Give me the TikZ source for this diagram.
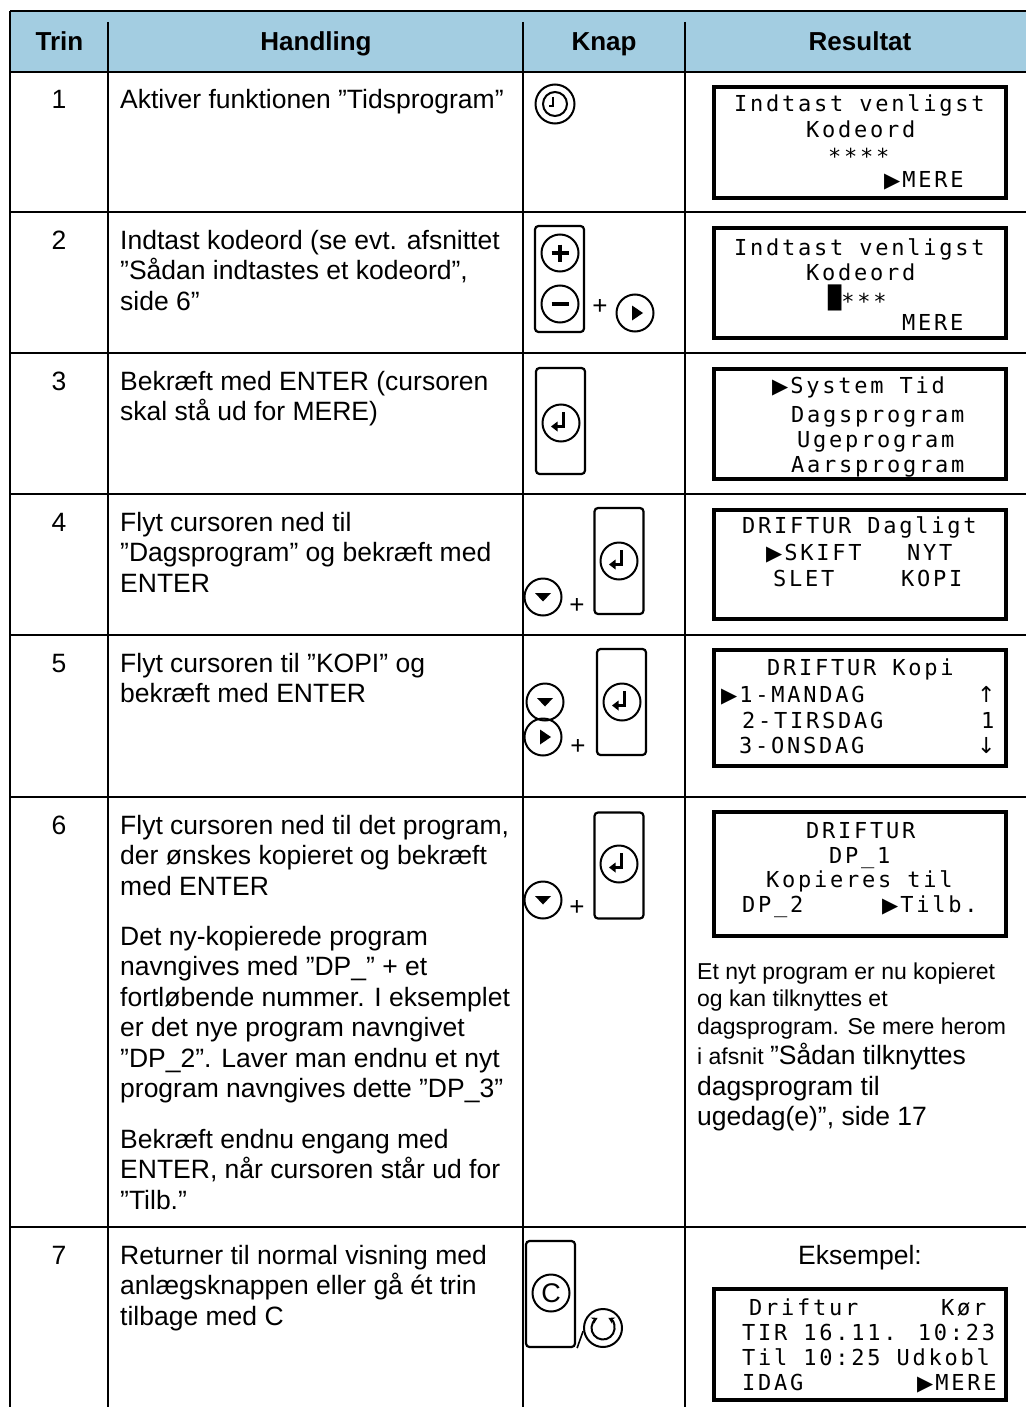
\documentclass[tikz,border=0pt]{standalone}
\usepackage{fontspec}
\setmainfont{Liberation Sans}
\newfontfamily\lcdfont[LetterSpace=12.5]{DejaVu Sans Mono}
\newfontfamily\symfont{DejaVu Sans}
\usetikzlibrary{arrows.meta}
\definecolor{hdr}{RGB}{163,205,225}
\newcommand\ptr{{\symfont\fontsize{21}{20}\selectfont ▶}\hspace{2pt}}
\newcommand\arrsym[1]{{\symfont\fontsize{22}{25}\selectfont #1}}
\newcommand\stars[1]{\raisebox{-4pt}{#1}}
\newcommand\enterglyph[1]{\begin{scope}[shift={(#1)}]
  \draw[line width=2.8pt] (2.5,-11) -- (2.5,3.5) -- (-4,3.5);
  \fill (-10,3.5) -- (-3.5,-1.5) -- (-3.5,8.5) -- cycle;
\end{scope}}
\newcommand\downglyph[1]{\fill[shift={(#1)}] (-8,-4) -- (8,-4) -- (0,4.5) -- cycle;}
\newcommand\rightglyph[1]{\fill[shift={(#1)}] (-3,-7.5) -- (-3,7.5) -- (8,0) -- cycle;}
\begin{document}
\begin{tikzpicture}[x=1pt,y=-1pt,
 grid/.style={line width=1.8pt,black},
 hd/.style={anchor=base,inner sep=0pt,font=\bfseries\fontsize{26}{30}\selectfont},
 txt/.style={anchor=base west,inner sep=0pt,font=\fontsize{26.5}{30}\selectfont},
 stxt/.style={anchor=base west,inner sep=0pt,font=\fontsize{23}{27}\selectfont},
 num/.style={anchor=base,inner sep=0pt,font=\fontsize{26.5}{30}\selectfont},
 lcdbox/.style={draw,line width=4.2pt},
 lcd/.style={anchor=base west,inner sep=0pt,font=\lcdfont\fontsize{22}{25}\selectfont},
 cbtn/.style={circle,draw,line width=2pt,minimum size=37pt,inner sep=0pt},
 rbtn/.style={draw,line width=2.2pt,rounded corners=3.5pt,minimum width=49pt,minimum height=106pt,inner sep=0pt},
 plussign/.style={inner sep=0pt,font=\fontsize{26}{30}\selectfont},
]
\useasboundingbox (0,0) rectangle (1026,1407);
% header
\fill[hdr] (10,11) rectangle (1026,72);
\node[hd] (h1) at (59.5,51) {Trin};
\node[hd] (h2) at (316,51) {Handling};
\node[hd] (h3) at (604,51) {Knap};
\node[hd] (h4) at (860,51) {Resultat};
% grid
\draw[grid] (10,11) -- (1026,11);
\draw[grid] (10,11) -- (10,1407);
\foreach \yy in {72,212,353,494,635,797,1227} \draw[grid] (10,\yy) -- (1026,\yy);
\foreach \xx in {108,523,685} \draw[grid] (\xx,22) -- (\xx,1407);
% step numbers
\foreach \n/\yy in {1/109,2/249,3/390,4/531,5/672,6/834,7/1264}
  \node[num] (n\n) at (59,\yy) {\n};
% Handling texts
\node[txt] (r1a) at (120,109) {Aktiver funktionen ”Tidsprogram”};
\foreach \t [count=\i] in {Indtast kodeord (se evt. afsnittet,{”Sådan indtastes et kodeord”,},side 6”}
  \node[txt] (r2l\i) at (120,249+30.5*\i-30.5) {\t};
\foreach \t [count=\i] in {Bekræft med ENTER (cursoren,skal stå ud for MERE)}
  \node[txt] (r3l\i) at (120,390+30.5*\i-30.5) {\t};
\foreach \t [count=\i] in {Flyt cursoren ned til,”Dagsprogram” og bekræft med,ENTER}
  \node[txt] (r4l\i) at (120,531+30.5*\i-30.5) {\t};
\foreach \t [count=\i] in {Flyt cursoren til ”KOPI” og,bekræft med ENTER}
  \node[txt] (r5l\i) at (120,672+30.5*\i-30.5) {\t};
\foreach \t [count=\i] in {{Flyt cursoren ned til det program,},der ønskes kopieret og bekræft,med ENTER}
  \node[txt] (r6l\i) at (120,834+30.5*\i-30.5) {\t};
\foreach \t [count=\i] in {Det ny-kopierede program,navngives med ”DP\_” + et,fortløbende nummer. I eksemplet,er det nye program navngivet,”DP\_2”. Laver man endnu et nyt,program navngives dette ”DP\_3”}
  \node[txt] (r6m\i) at (120,945+30.5*\i-30.5) {\t};
\foreach \t [count=\i] in {Bekræft endnu engang med,{ENTER, når cursoren står ud for},”Tilb.”}
  \node[txt] (r6n\i) at (120,1148+30.5*\i-30.5) {\t};
\foreach \t [count=\i] in {Returner til normal visning med,anlægsknappen eller gå ét trin,tilbage med C}
  \node[txt] (r7l\i) at (120,1264+30.5*\i-30.5) {\t};
% Result texts
\node[stxt] (s1) at (697,979) {Et nyt program er nu kopieret};
\node[stxt] (s2) at (697,1006) {og kan tilknyttes et};
\node[stxt] (s3) at (697,1034) {dagsprogram. Se mere herom};
\node[stxt] (s4) at (697,1064) {i afsnit {\fontsize{26.5}{30}\selectfont ”Sådan tilknyttes}};
\node[txt] (s5) at (697,1095) {dagsprogram til};
\node[txt] (s6) at (697,1125) {ugedag(e)”, side 17};
\node[num] (eks) at (860,1264) {Eksempel:};
% Buttons row 1: clock
\node[cbtn,minimum size=39pt] (clk) at (555,104) {};
\draw[line width=2pt] (clk.center) circle[radius=12];
\draw[line width=2pt,shift={(clk.center)}] (-2,-7) -- (-2,2) -- (-6,2);
% row 2
\node[rbtn] (b2) at (559.5,279) {};
\node[cbtn] (pl) at (560,253) {};
\draw[line width=3.3pt,shift={(pl.center)}] (-8.5,0) -- (8.5,0) (0,-8.5) -- (0,8.5);
\node[cbtn] (mi) at (560,304) {};
\draw[line width=3.3pt,shift={(mi.center)}] (-8.5,0) -- (8.5,0);
\node[plussign] (p2) at (600,307) {+};
\node[cbtn] (rt2) at (635,313) {};
\rightglyph{rt2.center}
% row 3
\node[rbtn] (b3) at (560.5,421) {};
\node[cbtn] (e3) at (561,423) {};
\enterglyph{e3.center}
% row 4
\node[cbtn] (d4) at (543,597) {};
\downglyph{d4.center}
\node[plussign] (p4) at (577,606) {+};
\node[rbtn] (b4) at (619,561) {};
\node[cbtn] (e4) at (619,561) {};
\enterglyph{e4.center}
% row 5
\node[cbtn] (d5) at (545,702) {};
\downglyph{d5.center}
\node[cbtn] (rt5) at (543,737) {};
\rightglyph{rt5.center}
\node[plussign] (p5) at (578,747) {+};
\node[rbtn] (b5) at (621.5,702) {};
\node[cbtn] (e5) at (622,702) {};
\enterglyph{e5.center}
% row 6
\node[cbtn] (d6) at (543,900) {};
\downglyph{d6.center}
\node[plussign] (p6) at (577,908) {+};
\node[rbtn] (b6) at (619,865.5) {};
\node[cbtn] (e6) at (619,864) {};
\enterglyph{e6.center}
% row 7
\node[rbtn] (b7) at (550.5,1294) {};
\node[cbtn,font=\fontsize{27}{30}\selectfont] (cc) at (551,1293) {C};
\node[cbtn,minimum size=38pt] (rf) at (603,1328) {};
\draw[line width=2pt,{Stealth[length=6pt,width=7pt]}-{Stealth[length=6pt,width=7pt]},shift={(rf.center)}]
  (-62:11.5) arc[start angle=-62,end angle=242,radius=11.5];
\draw[line width=1.6pt] (b7.south east) ++(1,0) -- ++(6,-17);
% LCD boxes
\draw[lcdbox] (714,87) rectangle (1006,198);
\draw[lcdbox] (714,228) rectangle (1006,338);
\draw[lcdbox] (714,369) rectangle (1006,479);
\draw[lcdbox] (714,510) rectangle (1006,619);
\draw[lcdbox] (714,650) rectangle (1006,766);
\draw[lcdbox] (714,812) rectangle (1006,936);
\draw[lcdbox] (714,1289) rectangle (1006,1400);
% LCD 1
\node[lcd] (l1a) at (734,112) {Indtast venligst};
\node[lcd] (l1b) at (806,138) {Kodeord};
\node[lcd] (l1c) at (828,161) {\stars{****}};
\node[lcd] (l1d) at (884,187) {\ptr MERE};
% LCD 2
\node[lcd] (l2a) at (734,255) {Indtast venligst};
\node[lcd] (l2b) at (806,280) {Kodeord};
\node[lcd] (l2c) at (828,305) {█\stars{***}};
\node[lcd] (l2d) at (902,330) {MERE};
% LCD 3
\node[lcd] (l3a) at (772,393) {\ptr System Tid};
\node[lcd] (l3b) at (791,422) {Dagsprogram};
\node[lcd] (l3c) at (797,447) {Ugeprogram};
\node[lcd] (l3d) at (791,472) {Aarsprogram};
% LCD 4
\node[lcd] (l4a) at (742,533) {DRIFTUR Dagligt};
\node[lcd] (l4b) at (766,560) {\ptr SKIFT};
\node[lcd] (l4c) at (907,560) {NYT};
\node[lcd] (l4d) at (773,586) {SLET};
\node[lcd] (l4e) at (901,586) {KOPI};
% LCD 5
\node[lcd] (l5a) at (767,675) {DRIFTUR Kopi};
\node[lcd] (l5b) at (721,702) {\ptr 1-MANDAG};
\node[lcd] (l5c) at (977,702) {\arrsym{↑}};
\node[lcd] (l5d) at (742,728) {2-TIRSDAG};
\node[lcd] (l5e) at (981,728) {1};
\node[lcd] (l5f) at (739,753) {3-ONSDAG};
\node[lcd] (l5g) at (977,753) {\arrsym{↓}};
% LCD 6
\node[lcd] (l6a) at (806,838) {DRIFTUR};
\node[lcd] (l6b) at (829,863) {DP\_1};
\node[lcd] (l6c) at (766,887) {Kopieres til};
\node[lcd] (l6d) at (742,912) {DP\_2};
\node[lcd] (l6e) at (882,912) {\ptr Tilb.};
% LCD 7
\node[lcd] (l7a) at (749,1315) {Driftur};
\node[lcd] (l7b) at (941,1315) {Kør};
\node[lcd] (l7c) at (742,1340) {TIR 16.11. 10:23};
\node[lcd] (l7d) at (742,1365) {Til 10:25 Udkobl};
\node[lcd] (l7e) at (742,1390) {IDAG};
\node[lcd] (l7f) at (917,1390) {\ptr MERE};
\end{tikzpicture}
\end{document}
